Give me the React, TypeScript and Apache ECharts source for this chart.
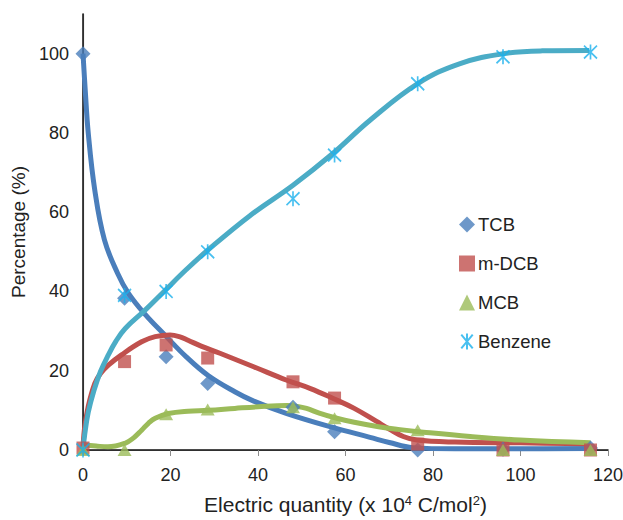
import React, { useEffect, useRef } from "react";
import * as echarts from "echarts";

// Measured points (x = electric quantity, x10^4 C/mol^2)
const xValues = [0, 9.5, 19, 28.5, 48, 57.5, 76.5, 96, 116];
const tcbValues = [100, 38.3, 23.5, 16.8, 10.8, 4.6, 0, 0.2, 0.5];
const mdcbValues = [0.5, 22.3, 26.5, 23.2, 17.2, 13.1, 1.5, 0, 0];
const mcbValues = [0, 0, 9, 10.2, 10.8, 8, 5, 0, 0];
const benzeneValues = [0, 39, 40, 50, 63.4, 74.4, 92.4, 99.2, 100.4];

// Fitted curves: [x, y]
const tcbFit = [
  [0, 100], [0.5, 91], [1.2, 80], [2.7, 65.5], [4.9, 53], [7.9, 44.6], [10.4, 39.5],
  [14.2, 34.2], [18.7, 29], [23.6, 23.5], [28.6, 18.8], [34.7, 14.7], [38.9, 12.4],
  [46.6, 9.2], [57.1, 5.7], [65.6, 3.2], [70, 1.9], [75.4, 0.6], [85, 0.3], [100, 0.3], [116, 0.4],
];
const mdcbFit = [
  [0, 0], [0.3, 5], [1.2, 11], [2.7, 16.8], [4, 19.3], [5.8, 21.4], [8.8, 24], [13.4, 27.3],
  [16.5, 28.6], [19.9, 29], [22, 28.6], [24, 27.7], [27, 26.2], [31.3, 24.4], [39, 21],
  [46.6, 17.6], [52, 15.5], [57.2, 13], [62, 10.5], [67.1, 7.2], [70, 5.3], [73.2, 3.4],
  [76.3, 2.5], [85, 2], [100, 1.8], [116, 1.6],
];
const mcbFit = [
  [0, 1.3], [3, 1], [5.7, 0.8], [9.6, 1.7], [11.5, 3], [13.4, 5], [15, 6.8], [16.5, 8],
  [19.5, 9.2], [24, 9.8], [28.6, 10], [34.7, 10.5], [40, 10.9], [46.6, 11.2], [49, 11],
  [51.1, 10.5], [54, 9.3], [58, 8], [62, 7], [67.9, 5.8], [72, 5.2], [77.8, 4.5],
  [88.5, 3.4], [99.9, 2.5], [116, 1.8],
];
const benzeneFit = [
  [0, 0], [0.4, 4], [1.2, 9.5], [2.5, 15], [4, 19.8], [5.7, 23.8], [7.5, 27.4], [9.6, 30.6],
  [14.2, 35.3], [18.7, 40.2], [23.5, 45.4], [28.3, 50.2], [38, 59], [48, 66.8], [57.1, 74.8],
  [65.6, 83.2], [76.6, 92.5], [86.2, 97.5], [96.1, 100], [105, 100.7], [115.7, 100.8],
];

const xTicks = [0, 20, 40, 60, 80, 100, 120];
const yTicks = [0, 20, 40, 60, 80, 100];

const seriesNames = ["TCB", "m-DCB", "MCB", "Benzene"];

const FONT = "Liberation Sans, Arial, sans-serif";
const STAR = "path://M0,0L10,12M10,0L0,12M5,-1L5,13";

export default function App() {
  const ref = useRef<HTMLDivElement>(null);

  useEffect(() => {
    if (!ref.current) return;
    const chart = echarts.init(ref.current, null, { renderer: "svg" });
    const pts = (vals: number[]) => xValues.map((x, i) => [x, vals[i]]);
    const fitLine = (name: string, data: number[][], color: string, z: number) => ({
      name,
      type: "line",
      data,
      smooth: 0.4,
      showSymbol: false,
      symbol: "none",
      lineStyle: { color, width: 5 },
      itemStyle: { color },
      z,
      silent: true,
    });
    chart.setOption({
      animation: false,
      backgroundColor: "#ffffff",
      textStyle: { fontFamily: FONT },
      grid: {
        left: 83,
        right: 15,
        top: 14,
        bottom: 70,
        containLabel: false,
        outerBoundsMode: "none",
      },
      legend: {
        data: seriesNames,
        orient: "vertical",
        left: 454,
        top: 210,
        itemGap: 20,
        itemWidth: 16,
        itemHeight: 16,
        textStyle: { fontSize: 18.5, color: "#222", fontFamily: FONT, padding: [0, 0, 0, -2] },
      },
      xAxis: [
        {
          type: "value",
          min: 0,
          max: 120,
          interval: 20,
          name: "Electric quantity (x 10{s|4} C/mol{s|2})",
          nameLocation: "middle",
          nameGap: 44,
          nameTextStyle: {
            fontSize: 21,
            color: "#222",
            fontFamily: FONT,
            rich: {
              s: { fontSize: 13, verticalAlign: "top", lineHeight: 13, color: "#222", fontFamily: FONT },
            },
          },
          axisLine: { lineStyle: { color: "#8c8c8c", width: 1.2 } },
          axisTick: { show: true, length: 6, lineStyle: { color: "#8c8c8c" } },
          axisLabel: {
            fontSize: 18,
            color: "#222",
            margin: 16,
            formatter: (v: number) => (xTicks.includes(v) ? String(v) : ""),
          },
          splitLine: { show: false },
        },
        {
          type: "value",
          position: "top",
          min: 0,
          max: 120,
          axisLine: { show: true, lineStyle: { color: "#111", width: 1.5 } },
          axisTick: { show: false },
          axisLabel: { show: false },
          splitLine: { show: false },
        },
      ],
      yAxis: [
        {
          type: "value",
          min: 0,
          max: 110,
          interval: 20,
          name: "Percentage (%)",
          nameLocation: "middle",
          nameGap: 52,
          nameTextStyle: { fontSize: 19, color: "#222", fontFamily: FONT },
          axisLine: { show: true, lineStyle: { color: "#8c8c8c", width: 1.2 } },
          axisTick: { show: false },
          axisLabel: {
            fontSize: 18,
            color: "#222",
            margin: 14,
            formatter: (v: number) => (yTicks.includes(v) ? String(v) : ""),
          },
          splitLine: { show: false },
        },
        {
          type: "value",
          position: "right",
          min: 0,
          max: 110,
          axisLine: { show: true, lineStyle: { color: "#111", width: 1.5 } },
          axisTick: { show: false },
          axisLabel: { show: false },
          splitLine: { show: false },
        },
      ],
      series: [
        fitLine("TCB fit", tcbFit, "#4a7ebb", 2),
        fitLine("m-DCB fit", mdcbFit, "#c0504d", 3),
        fitLine("MCB fit", mcbFit, "#9bbb59", 4),
        fitLine("Benzene fit", benzeneFit, "#4bacc6", 5),
        {
          name: "TCB",
          type: "scatter",
          data: pts(tcbValues),
          symbol: "diamond",
          symbolSize: [15, 15],
          itemStyle: { color: "#4a7ebb" },
          z: 6,
        },
        {
          name: "m-DCB",
          type: "scatter",
          data: pts(mdcbValues),
          symbol: "rect",
          symbolSize: 13,
          itemStyle: { color: "#c0504d" },
          z: 6,
        },
        {
          name: "MCB",
          type: "scatter",
          data: pts(mcbValues),
          symbol: "triangle",
          symbolSize: [14, 12],
          itemStyle: { color: "#9bbb59" },
          z: 6,
        },
        {
          name: "Benzene",
          type: "scatter",
          data: pts(benzeneValues),
          symbol: STAR,
          symbolSize: [13, 15],
          itemStyle: { color: "rgba(0,0,0,0)", borderColor: "#1ab0ec", borderWidth: 1.8 },
          z: 7,
        },
      ],
    });
    return () => chart.dispose();
  }, []);

  return (
    <div
      ref={ref}
      style={{ position: "fixed", left: 0, top: 0, width: 623, height: 520, background: "#fff" }}
    />
  );
}
